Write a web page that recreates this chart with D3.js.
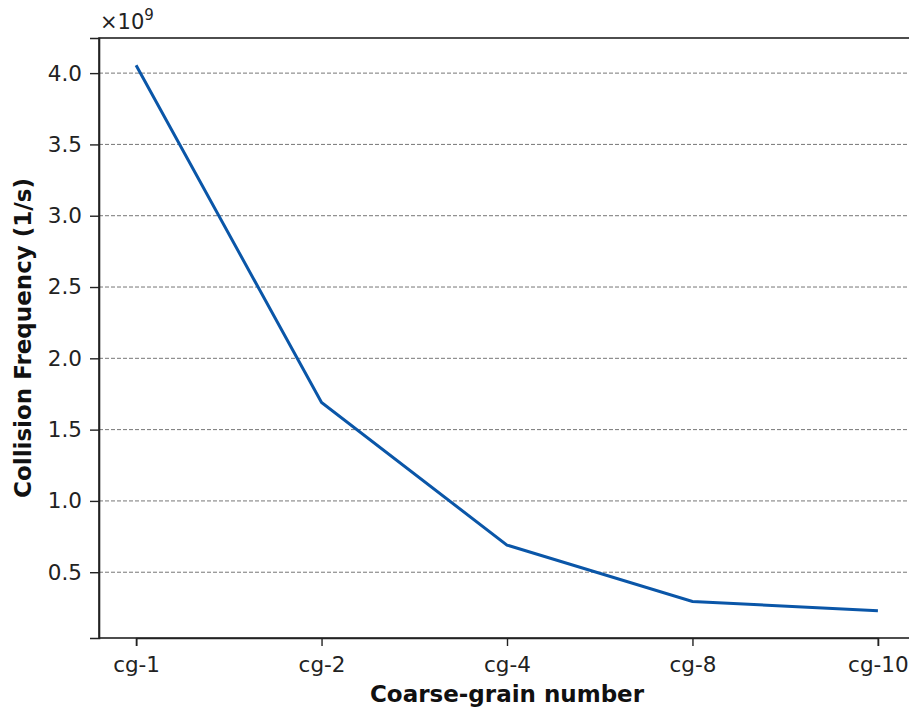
<!DOCTYPE html>
<html lang="en">
<head>
<meta charset="UTF-8">
<script src="https://d3js.org/d3.v7.min.js"></script>
<style>
  body { margin: 0; background: #fff; }
  svg { font-family: "DejaVu Sans", sans-serif; }
  .tick text { font-family: "DejaVu Sans", sans-serif; font-size: 21.5px; fill: #222; }
  .tick line { stroke: #222; stroke-width: 1.4; }
  .domain { stroke: #222; stroke-width: 1.6; }
  .grid line { stroke: #777; stroke-dasharray: 4,2; stroke-width: 1; }
  .label { font-size: 23px; font-weight: bold; fill: #111; }
</style>
</head>
<body>
<svg id="chart"></svg>
<script>

const categories = ['cg-1', 'cg-2', 'cg-4', 'cg-8', 'cg-10']
const frequency = [4.055, 1.69, 0.69, 0.295, 0.23]   // x 1e9
const yTicks = [0.5, 1.0, 1.5, 2.0, 2.5, 3.0, 3.5, 4.0]

let W = 909, H = 710,
    margin = {top: 38, right: -6, bottom: 72, left: 99},
    width = W - margin.left - margin.right,
    height = H - margin.top - margin.bottom

let svg = d3.select('#chart')
    .attr('width', W)
    .attr('height', H)

let g = svg.append('g')
    .attr('transform', `translate(${margin.left},${margin.top})`)

// matplotlib style 5% padding on both axes
let x = d3.scalePoint()
    .domain(categories)
    .range([width * 0.05 / 1.1, width - width * 0.05 / 1.1])

let yMin = d3.min(frequency), yMax = d3.max(frequency), pad = (yMax - yMin) * 0.05
let y = d3.scaleLinear()
    .domain([yMin - pad, yMax + pad])
    .range([height, 0])

// gridlines
g.append('g')
    .attr('class', 'grid')
    .selectAll('line')
    .data(yTicks)
    .join('line')
      .attr('x1', 0)
      .attr('x2', width)
      .attr('y1', d => y(d))
      .attr('y2', d => y(d))

// frame
g.append('rect')
    .attr('width', width)
    .attr('height', height)
    .attr('fill', 'none')
    .attr('stroke', '#222')
    .attr('stroke-width', 1.6)

let line = d3.line()
    .x((d, i) => x(categories[i]))
    .y(d => y(d))

g.append('path')
    .datum(frequency)
    .attr('d', line)
    .attr('fill', 'none')
    .attr('stroke', '#0a56a8')
    .attr('stroke-width', 3)

// axes
g.append('g')
    .attr('transform', `translate(0,${height})`)
    .call(d3.axisBottom(x).tickSize(8).tickPadding(11))

g.append('g')
    .call(d3.axisLeft(y).tickValues(yTicks).tickFormat(d3.format('.1f')).tickSize(9).tickPadding(8))

// offset text
let off = svg.append('text')
    .attr('x', margin.left + 1)
    .attr('y', 29)
    .attr('font-size', 21)
    .attr('fill', '#222')
off.append('tspan').text('×10')
off.append('tspan').attr('dy', -9).attr('font-size', 15).text('9')

// axis labels
svg.append('text')
    .attr('class', 'label')
    .attr('x', margin.left + x('cg-4'))
    .attr('y', 702)
    .attr('text-anchor', 'middle')
    .text('Coarse-grain number')

svg.append('text')
    .attr('class', 'label')
    .attr('transform', `translate(31,${margin.top + height / 2}) rotate(-90)`)
    .attr('text-anchor', 'middle')
    .text('Collision Frequency (1/s)')

</script>
</body>
</html>
